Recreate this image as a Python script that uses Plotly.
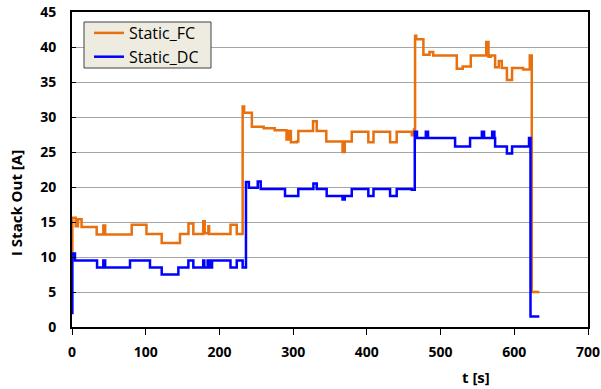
import plotly.graph_objects as go

# Static_FC step series (time [s], current [A])
fc_t = [0, 0.5, 5, 8, 13, 33.5, 42.5, 45, 81, 101, 121.7, 146.5, 158, 164.6, 178, 180, 185, 186, 189,
        215, 223.5, 231.5, 233.5, 244, 260, 275, 291, 294, 297, 305, 307, 327, 332, 345, 367, 370,
        379.5, 402, 409, 431.5, 440.5, 461, 464, 465.4, 467, 476.7, 485, 490, 522, 530, 541, 562,
        565, 568, 574, 579, 583, 590, 597, 612, 621, 623.7, 634]
fc_i = [10.8, 15.6, 14.4, 15.4, 14.3, 13.2, 14.5, 13.2, 14.6, 13.3, 12.0, 13.3, 14.8, 13.3, 15.1,
        13.4, 14.4, 13.3, 13.3, 14.6, 13.3, 31.5, 30.6, 28.6, 28.4, 28.1, 26.8, 28.0, 26.4, 26.5,
        28.0, 29.4, 28.0, 26.5, 25.0, 26.5, 27.9, 26.4, 27.9, 26.4, 27.9, 27.4, 28.2, 41.6, 41.1,
        38.9, 39.3, 38.8, 36.9, 37.2, 38.8, 40.7, 38.6, 38.8, 37.1, 38.0, 37.0, 35.3, 37.0, 36.8,
        38.8, 5.0, 5.0]

# Static_DC step series (time [s], current [A])
dc_t = [0, 0.5, 4, 34, 42.5, 45, 78.7, 105.8, 121.7, 144.3, 157.9, 164.6, 178, 179.5, 184, 186.9,
        190, 215, 223.5, 231.5, 236, 240, 252, 256, 289, 307, 327.5, 332, 345.5, 367, 370, 379.5,
        402, 409, 431.5, 440.5, 461, 465, 468, 480, 483, 519.7, 540, 556, 559, 570, 573, 574, 590,
        597, 620, 622, 634]
dc_i = [2.0, 10.5, 9.5, 8.5, 9.5, 8.5, 9.5, 8.5, 7.5, 8.5, 9.5, 8.5, 9.5, 8.5, 9.5, 8.5, 9.5,
        8.5, 9.5, 8.5, 20.7, 19.9, 20.8, 19.7, 18.7, 19.7, 20.5, 19.7, 18.7, 18.2, 18.7, 19.7,
        18.7, 19.7, 18.7, 19.7, 19.6, 27.9, 27.0, 27.9, 27.0, 25.8, 27.0, 27.9, 27.0, 27.9, 27.0,
        25.8, 24.8, 25.8, 27.0, 1.5, 1.5]

x_ticks = [0, 100, 200, 300, 400, 500, 600, 700]
y_ticks = [0, 5, 10, 15, 20, 25, 30, 35, 40, 45]

FONT = "Open Sans"
BOLD = dict(family=FONT, size=14, weight="bold", color="black")

# plot area in page pixels: x 72..588, y 12..327
PW, PH, PL, PB = 516, 315, 72, 327


def px(x):
    return (x - PL) / PW


def py(y):
    return (PB - y) / PH


fig = go.Figure()
fig.add_trace(go.Scatter(x=fc_t, y=fc_i, mode="lines", name="Static_FC",
                         line=dict(color="#E8700E", width=2.5, shape="hv")))
fig.add_trace(go.Scatter(x=dc_t, y=dc_i, mode="lines", name="Static_DC",
                         line=dict(color="#0000FF", width=2.5, shape="hv")))

fig.update_layout(
    width=601, height=389,
    margin=dict(l=72, r=13, t=12, b=62, autoexpand=False),
    paper_bgcolor="white", plot_bgcolor="white",
    font=dict(family=FONT, size=14, color="black"),
    showlegend=True,
    legend=dict(x=px(89), y=py(16), xanchor="left", yanchor="top",
                bgcolor="rgba(0,0,0,0)", borderwidth=0,
                font=dict(family=FONT, size=16, color="black"),
                itemwidth=30, tracegroupgap=0),
)
# legend frame
fig.add_shape(type="rect", xref="paper", yref="paper",
              x0=px(84), x1=px(211), y0=py(68), y1=py(22),
              fillcolor="#EEECE1", line=dict(color="#404040", width=1), layer="above")

fig.update_xaxes(range=[0, 700], tickvals=x_ticks, ticktext=[str(v) for v in x_ticks],
                 showgrid=False, zeroline=False, showline=True, linecolor="black", linewidth=2,
                 mirror=True, ticks="outside", ticklen=6, tickcolor="black", tickwidth=1,
                 ticklabelstandoff=5, automargin=False, tickfont=BOLD)
fig.update_yaxes(range=[0, 45], tickvals=y_ticks, ticktext=[str(v) for v in y_ticks],
                 showgrid=True, gridcolor="#A6A6A6", gridwidth=1, zeroline=False,
                 showline=True, linecolor="black", linewidth=2, mirror=True,
                 ticks="inside", ticklen=4, tickcolor="black", ticklabelstandoff=11,
                 automargin=False, tickfont=BOLD)
fig.add_annotation(text="I Stack Out [A]", xref="paper", yref="paper",
                   x=px(16), y=py(203),
                   xanchor="center", yanchor="middle", showarrow=False, textangle=-90,
                   font=dict(family=FONT, size=15, weight="bold", color="black"))
fig.add_annotation(text="t [s]", xref="paper", yref="paper",
                   x=px(476), y=py(377),
                   xanchor="center", yanchor="middle", showarrow=False,
                   font=dict(family=FONT, size=15, weight="bold", color="black"))

fig.write_html("out.html", config={"displayModeBar": False},
               post_script="document.body.style.margin='0px';")
